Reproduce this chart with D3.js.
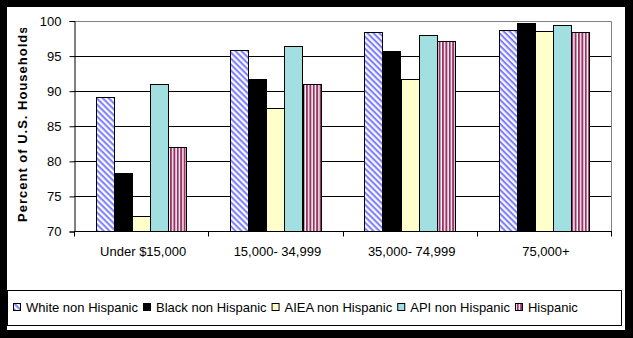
<!DOCTYPE html>
<html><head><meta charset="utf-8">
<script src="https://cdn.jsdelivr.net/npm/d3@7"></script>
<style>html,body{margin:0;padding:0;background:#000;}svg{display:block;}</style>
</head><body>
<script>
const categories = ["Under $15,000", "15,000- 34,999", "35,000- 74,999", "75,000+"];
const seriesNames = ["White non Hispanic", "Black non Hispanic", "AIEA non Hispanic", "API non Hispanic", "Hispanic"];
const white = [89.1, 95.8, 98.3, 98.7];
const black = [78.2, 91.6, 95.6, 99.7];
const aiea = [72.2, 87.6, 91.6, 98.5];
const api = [90.9, 96.3, 97.9, 99.3];
const hispanic = [82.0, 90.9, 97.1, 98.3];
const yTicks = [70, 75, 80, 85, 90, 95, 100];
const yLabel = "Percent of U.S. Households";

const seriesValues = [white, black, aiea, api, hispanic];
const W = 633, H = 338;
const font = "'Liberation Sans', Arial, sans-serif";
const svg = d3.select("body").append("svg").attr("width", W).attr("height", H);

const defs = svg.append("defs");
const p1 = defs.append("pattern").attr("id", "pWhite").attr("patternUnits", "userSpaceOnUse")
  .attr("width", 4.24).attr("height", 4.24).attr("patternTransform", "rotate(45)");
p1.append("rect").attr("width", 4.24).attr("height", 4.24).attr("fill", "#fff");
p1.append("rect").attr("width", 4.24).attr("height", 2.1).attr("fill", "#8080ff");
const p2 = defs.append("pattern").attr("id", "pHisp").attr("patternUnits", "userSpaceOnUse")
  .attr("width", 3.4).attr("height", 3.4);
p2.append("rect").attr("width", 3.4).attr("height", 3.4).attr("fill", "#fff");
p2.append("rect").attr("width", 2).attr("height", 3.4).attr("fill", "#993366");
defs.append("clipPath").attr("id", "ylab").append("rect").attr("x", 0).attr("y", 28).attr("width", 60).attr("height", 300);

const fills = ["url(#pWhite)", "#000000", "#ffffcc", "#a2dfe0", "url(#pHisp)"];

// panel
svg.append("rect").attr("x", 7).attr("y", 7).attr("width", 618).attr("height", 323).attr("fill", "#fff");

const plot = {l: 74, r: 611, t: 20.5, b: 231};
const y = d3.scaleLinear().domain([70, 100]).range([plot.b, plot.t]);
const x0 = d3.scaleBand().domain(categories).range([plot.l, plot.r]);
const cw = x0.bandwidth();
const x1 = d3.scaleBand().domain(d3.range(seriesNames.length)).range([cw * 0.163, cw * 0.837]);

// gridlines
svg.append("g").selectAll("line").data(yTicks.filter(t => t > 70 && t < 100)).join("line")
  .attr("x1", plot.l).attr("x2", plot.r).attr("y1", d => Math.round(y(d)) + 0.5).attr("y2", d => Math.round(y(d)) + 0.5)
  .attr("stroke", "#000").attr("stroke-width", 1);
// plot border top/right grey
svg.append("path").attr("d", `M${plot.l},${Math.round(plot.t)+0.5}H${plot.r+0.5}V${plot.b}`)
  .attr("fill", "none").attr("stroke", "#808080");

// bars
const gBars = svg.append("g");
categories.forEach((c, ci) => {
  seriesValues.forEach((vals, si) => {
    const v = vals[ci];
    const bx = x0(c) + x1(si);
    gBars.append("rect")
      .attr("x", Math.round(bx) + 0.5).attr("y", Math.round(y(v)) + 0.5)
      .attr("width", Math.round(x1.bandwidth()))
      .attr("height", Math.round(y(70)) - Math.round(y(v)))
      .attr("fill", fills[si]).attr("stroke", "#000").attr("stroke-width", 1);
  });
});

// y axis
const yAxis = d3.axisLeft(y).tickValues(yTicks).tickSize(5).tickPadding(8).tickFormat(d3.format("d"));
const gy = svg.append("g").attr("transform", `translate(${plot.l + 0.5},0.5)`).call(yAxis);
gy.select(".domain").attr("stroke", "#000");
gy.selectAll(".tick line").attr("stroke", "#000");
gy.selectAll("text").attr("font-family", font).attr("font-size", 13).attr("fill", "#000");

// x axis
const gx = svg.append("g").attr("transform", `translate(0,${Math.round(plot.b) + 0.5})`);
gx.append("line").attr("x1", plot.l).attr("x2", plot.r + 1).attr("stroke", "#000");
const bounds = categories.map(c => x0(c)).concat([plot.r]);
gx.selectAll("line.tk").data(bounds).join("line").attr("class", "tk")
  .attr("x1", d => Math.round(d) + 0.5).attr("x2", d => Math.round(d) + 0.5).attr("y1", 0).attr("y2", 5).attr("stroke", "#000");
gx.selectAll("text").data(categories).join("text")
  .attr("x", d => x0(d) + cw / 2 + 2).attr("y", 24).attr("text-anchor", "middle")
  .attr("font-family", font).attr("font-size", 13).attr("fill", "#000").text(d => d);

// y label
svg.append("g").attr("clip-path", "url(#ylab)").append("text")
  .attr("transform", `translate(27,${(plot.t + plot.b) / 2 - 2}) rotate(-90)`)
  .attr("text-anchor", "middle").attr("font-family", font).attr("font-size", 13).attr("font-weight", "bold")
  .attr("letter-spacing", "1px").attr("fill", "#000").text(yLabel);

// legend
svg.append("rect").attr("x", 7.5).attr("y", 290.5).attr("width", 614).attr("height", 35)
  .attr("fill", "#fff").attr("stroke", "#000");
const lg = svg.append("g");
let lx = 13;
seriesNames.forEach((n, i) => {
  lg.append("rect").attr("x", lx + 0.5).attr("y", 303.5).attr("width", 7).attr("height", 7)
    .attr("fill", fills[i]).attr("stroke", "#000");
  const t = lg.append("text").attr("x", lx + 13).attr("y", 311.5).attr("font-family", font).attr("font-size", 13)
    .attr("fill", "#000").text(n);
  lx = lx + 13 + t.node().getComputedTextLength() + 5;
});
</script>
</body></html>
